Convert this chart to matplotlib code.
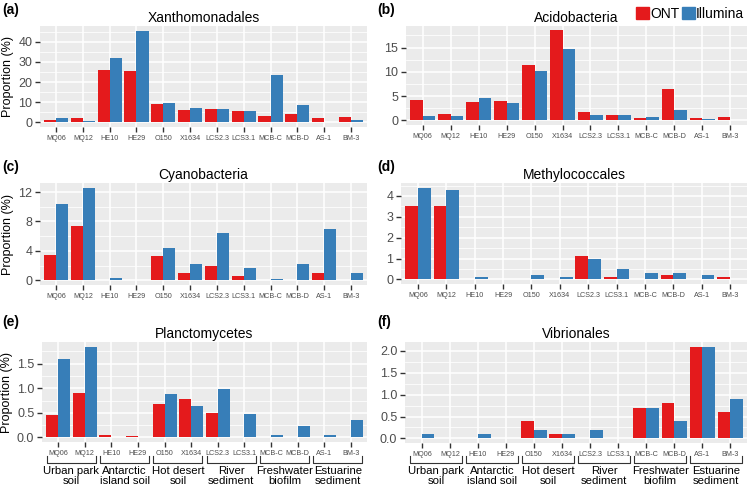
import numpy as np
import matplotlib
matplotlib.use("Agg")
import matplotlib.pyplot as plt
from matplotlib.patches import Patch
from matplotlib.transforms import blended_transform_factory

plt.rcParams['font.family'] = ['Liberation Sans', 'DejaVu Sans']

samples = ["MQ06", "MQ12", "HE10", "HE29", "O150", "X1634",
           "LCS2.3", "LCS3.1", "MCB-C", "MCB-D", "AS-1", "BM-3"]
groups = ["Urban park\nsoil", "Antarctic\nisland soil", "Hot desert\nsoil",
          "River\nsediment", "Freshwater\nbiofilm", "Estuarine\nsediment"]

xantho_ont = [1.2, 2.0, 25.8, 25.5, 9.2, 6.0, 6.7, 5.8, 3.4, 4.0, 2.0, 2.9]
xantho_ill = [2.2, 0.8, 32.0, 45.5, 9.7, 7.3, 6.7, 5.8, 23.7, 8.4, 0.2, 1.0]

acido_ont = [4.3, 1.4, 3.8, 4.0, 11.5, 18.5, 1.7, 1.2, 0.5, 6.5, 0.5, 0.8]
acido_ill = [1.0, 1.0, 4.7, 3.6, 10.2, 14.6, 1.2, 1.1, 0.7, 2.1, 0.3, 0.0]

cyano_ont = [3.5, 7.4, 0.0, 0.0, 3.3, 1.0, 1.9, 0.6, 0.1, 0.1, 1.0, 0.1]
cyano_ill = [10.4, 12.6, 0.35, 0.1, 4.4, 2.2, 6.4, 1.7, 0.15, 2.2, 7.0, 1.0]

methyl_ont = [3.5, 3.5, 0.0, 0.0, 0.0, 0.0, 1.1, 0.1, 0.0, 0.2, 0.0, 0.1]
methyl_ill = [4.4, 4.3, 0.1, 0.0, 0.2, 0.1, 1.0, 0.5, 0.3, 0.3, 0.2, 0.0]

plancto_ont = [0.45, 0.9, 0.06, 0.02, 0.69, 0.79, 0.5, 0.0, 0.0, 0.0, 0.0, 0.0]
plancto_ill = [1.6, 1.85, 0.0, 0.0, 0.89, 0.64, 0.98, 0.48, 0.04, 0.24, 0.04, 0.36]

vibrio_ont = [0.0, 0.0, 0.0, 0.0, 0.4, 0.1, 0.0, 0.0, 0.7, 0.8, 2.1, 0.6]
vibrio_ill = [0.1, 0.0, 0.1, 0.0, 0.2, 0.1, 0.2, 0.0, 0.7, 0.4, 2.1, 0.9]

RED = "#E41A1C"
BLUE = "#377EB8"
W, H = 751, 490

fig = plt.figure(figsize=(W / 100, H / 100), dpi=100)


def make_axes(x0, y0, x1, y1):
    return fig.add_axes([x0 / W, 1 - y1 / H, (x1 - x0) / W, (y1 - y0) / H])


def panel(ax, title, ont, ill, yticks, ylabel=False, fmt="{:g}"):
    ax.set_facecolor("#EBEBEB")
    x = np.arange(len(samples))
    top = max(max(ont), max(ill))
    ax.set_ylim(-0.05 * top, 1.05 * top)
    ax.set_xlim(-0.6, len(samples) - 0.4)
    ax.set_yticks(yticks)
    ax.set_yticklabels([fmt.format(t) for t in yticks])
    minor = [(a + b) / 2 for a, b in zip(yticks[:-1], yticks[1:])]
    if yticks[-1] + (yticks[1] - yticks[0]) / 2 < 1.05 * top:
        minor.append(yticks[-1] + (yticks[1] - yticks[0]) / 2)
    ax.set_yticks(minor, minor=True)
    ax.grid(True, which="major", color="white", linewidth=1.1)
    ax.grid(True, which="minor", axis="y", color="white", linewidth=0.55)
    ax.set_axisbelow(True)
    ax.bar(x - 0.225, ont, width=0.45, color=RED, zorder=2)
    ax.bar(x + 0.225, ill, width=0.45, color=BLUE, zorder=2)
    ax.set_xticks(x)
    ax.set_xticklabels(samples, fontsize=5.2, color="#4D4D4D")
    ax.tick_params(axis="x", which="major", length=3.5, width=1, color="#333333", pad=2.5)
    ax.tick_params(axis="y", which="major", length=3.5, width=1, color="#333333",
                   labelsize=9, labelcolor="#4D4D4D", pad=2)
    ax.tick_params(which="minor", length=0)
    for s in ax.spines.values():
        s.set_visible(False)
    ax.set_title(title, fontsize=10, pad=3)
    if ylabel:
        ax.set_ylabel("Proportion (%)", fontsize=9, labelpad=3)


def brackets(ax):
    tr = blended_transform_factory(ax.transData, fig.transFigure)
    yt, yb = 1 - 456 / H, 1 - 463 / H
    for g, name in enumerate(groups):
        a, b = 2 * g - 0.42, 2 * g + 1.42
        ax.plot([a, a, b, b], [yt, yb, yb, yt], color="#333333", lw=0.8,
                transform=tr, clip_on=False)
        c = 2 * g + 0.5
        ax.text(c, 1 - 466 / H, name, transform=tr, ha="center", va="top",
                fontsize=8.2, linespacing=1.0)


ax_a = make_axes(40, 26, 367, 127)
panel(ax_a, "Xanthomonadales", xantho_ont, xantho_ill, [0, 10, 20, 30, 40], ylabel=True)
ax_b = make_axes(406, 26, 747, 125)
panel(ax_b, "Acidobacteria", acido_ont, acido_ill, [0, 5, 10, 15])
ax_c = make_axes(40, 183, 367, 285)
panel(ax_c, "Cyanobacteria", cyano_ont, cyano_ill, [0, 4, 8, 12], ylabel=True)
ax_d = make_axes(401, 183, 747, 284)
panel(ax_d, "Methylococcales", methyl_ont, methyl_ill, [0, 1, 2, 3, 4])
ax_e = make_axes(42, 342, 367, 442)
panel(ax_e, "Planctomycetes", plancto_ont, plancto_ill, [0, 0.5, 1.0, 1.5], ylabel=True, fmt="{:.1f}")
ax_f = make_axes(405, 342, 747, 443)
panel(ax_f, "Vibrionales", vibrio_ont, vibrio_ill, [0, 0.5, 1.0, 1.5, 2.0], fmt="{:.1f}")
brackets(ax_e)
brackets(ax_f)

for lab, (px, py) in zip("abcdef", [(2, 3), (377, 3), (2, 160), (377, 160), (2, 315), (377, 315)]):
    fig.text(px / W, 1 - py / H, "(" + lab + ")", fontsize=10, fontweight="bold",
             ha="left", va="top")

handles = [Patch(color=RED, label="ONT"), Patch(color=BLUE, label="Illumina")]
fig.legend(handles=handles, loc="upper right", bbox_to_anchor=(1.0, 1.0), ncol=2,
           frameon=False, fontsize=10, handlelength=0.9, handleheight=0.9,
           handletextpad=0.1, columnspacing=0.2, borderaxespad=0.3, borderpad=0.2)

fig.savefig("out.png", dpi=100)
